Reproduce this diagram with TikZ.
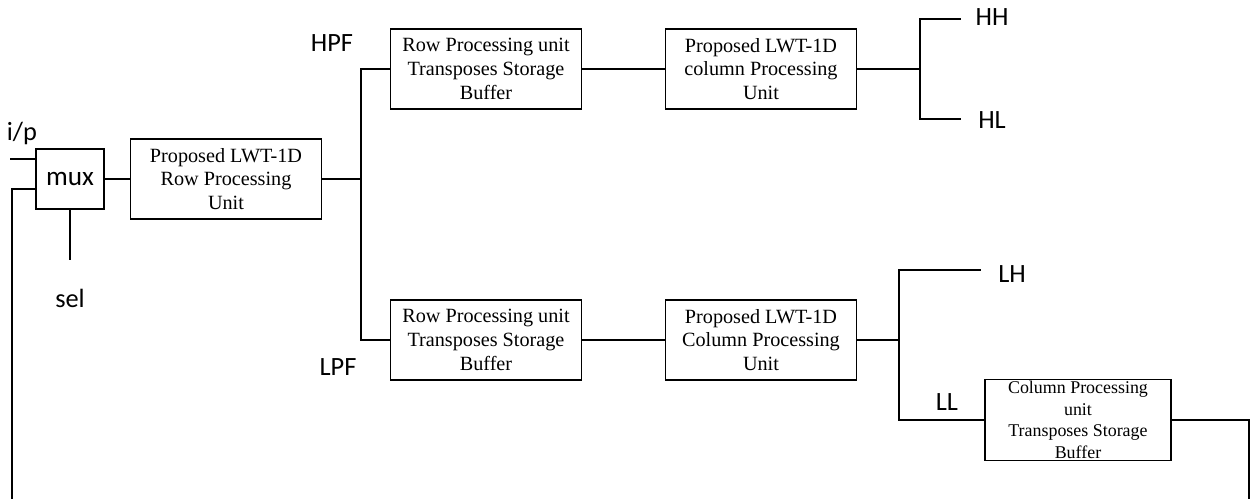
\documentclass[tikz,border=0pt]{standalone}
\usepackage{fontspec}
\setmainfont{Liberation Serif}
\newfontfamily\lblfont{Carlito}
\usepackage{tikz}

\tikzset{
  unitbox/.style={draw, thick, align=center, minimum width=3.82cm, minimum height=1.6cm,
    inner sep=1pt, font=\fontsize{11.5}{13.6}\selectfont},
  smallbox/.style={draw, thick, align=center, minimum width=3.72cm, minimum height=1.62cm,
    inner sep=0pt, font=\fontsize{10.2}{12.2}\selectfont},
  sig/.style={font=\lblfont\fontsize{15}{17}\selectfont},
  wire/.style={thick}
}

\begin{document}
\begin{tikzpicture}[x=0.02cm, y=-0.02cm]

\useasboundingbox (0,0) rectangle (1252,499);

% Input multiplexer
\node[draw, thick, minimum width=1.36cm, minimum height=1.2cm,
  font=\lblfont\fontsize{15.5}{18}\selectfont] (mux) at (70,179) {mux};
\coordinate (ipin) at (10,159);
\coordinate (muxin) at (36,159);
\coordinate (muxfb) at (36,189);
\coordinate (selend) at (70,260);
\node[sig] (iplbl) at (22,133) {i/p};
\node[sig] (sellbl) at (70,298) {sel};

% 1D row transform
\node[unitbox] (rowpu) at (226,179) {Proposed LWT-1D\\Row Processing\\Unit};

% High-pass branch
\node[unitbox] (hrow) at (486,69) {Row Processing unit\\Transposes Storage\\Buffer};
\node[unitbox] (hcol) at (761,69) {Proposed LWT-1D\\column Processing\\Unit};

% Low-pass branch
\node[unitbox] (lrow) at (486,340) {Row Processing unit\\Transposes Storage\\Buffer};
\node[unitbox] (lcol) at (761,340) {Proposed LWT-1D\\Column Processing\\Unit};

% LL storage for next level
\node[smallbox] (llbuf) at (1078,420) {Column Processing\\unit\\Transposes Storage\\Buffer};

% Branch labels
\node[sig] (hpf) at (332,43) {HPF};
\node[sig] (lpf) at (338,367) {LPF};
\node[sig] (hh) at (992,17) {HH};
\node[sig] (hl) at (992,120) {HL};
\node[sig] (lh) at (1012,274) {LH};
\node[sig] (ll) at (947,402) {LL};

% Split points and free ends
\coordinate (s1) at (361,179);
\coordinate (s2) at (920,69);
\coordinate (s3) at (899,340);
\coordinate (hhend) at (961,19);
\coordinate (hlend) at (961,119);
\coordinate (lhend) at (981,270);
\coordinate (fbr) at (1249,499);
\coordinate (fbl) at (12,499);

% Wires
\draw[wire] (ipin) -- (muxin);
\draw[wire] (mux.south) -- (selend);
\draw[wire] (mux) -- (rowpu);
\draw[wire] (rowpu) -- (s1);
\draw[wire] (s1) |- (hrow.west);
\draw[wire] (s1) |- (lrow.west);
\draw[wire] (hrow) -- (hcol);
\draw[wire] (lrow) -- (lcol);
\draw[wire] (hcol) -- (s2);
\draw[wire] (s2) |- (hhend);
\draw[wire] (s2) |- (hlend);
\draw[wire] (lcol) -- (s3);
\draw[wire] (s3) |- (lhend);
\draw[wire] (s3) |- (llbuf.west);
\draw[wire] (llbuf.east) -| (fbr);
\draw[wire] (fbl) |- (muxfb);

\end{tikzpicture}
\end{document}
